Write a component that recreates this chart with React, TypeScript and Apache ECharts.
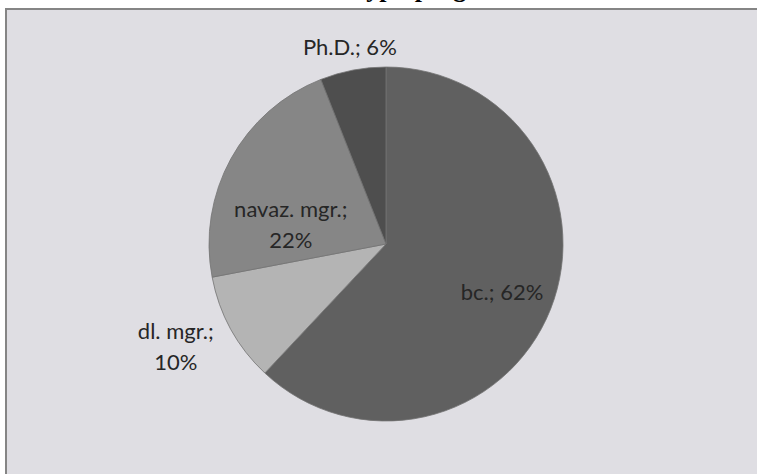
import React, { useEffect, useRef } from "react";
import * as echarts from "echarts";

const categories = ["bc.", "dl. mgr.", "navaz. mgr.", "Ph.D."];
const shares = [62, 10, 22, 6];
const sliceColors = ["#606060", "#b4b4b4", "#868686", "#4e4e4e"];
const labelPositions = ["inside", "inside", "inside", "inside"];
// label nudges (px) from ECharts' inside-label anchor
const labelShift = [
  [31, 14],
  [-130, 58],
  [-15, 24],
  [-19, -108],
];
const titleText = "Podle typu programu";

export default function App() {
  const ref = useRef<HTMLDivElement>(null);
  useEffect(() => {
    document.body.style.margin = "0";
    const chart = echarts.init(ref.current!, undefined, { renderer: "svg" });
    chart.setOption({
      animation: false,
      backgroundColor: "#ffffff",
      graphic: [
        {
          type: "rect",
          shape: { x: 6, y: 9, width: 800, height: 520 },
          style: { fill: "#dfdee3", stroke: "#858585", lineWidth: 2 },
          z: -10,
        },
        {
          type: "text",
          x: 408,
          y: -12,
          style: {
            text: titleText,
            font: "bold 26px 'Liberation Serif', serif",
            fill: "#000000",
            align: "center",
            verticalAlign: "middle",
          },
        },
      ],
      series: [
        {
          type: "pie",
          center: [386, 244],
          radius: 177,
          startAngle: 90,
          clockwise: true,
          itemStyle: { borderColor: "#737373", borderWidth: 0.8 },
          label: {
            show: true,
            formatter: (p: any) =>
              p.dataIndex === 1 || p.dataIndex === 2
                ? `${p.name};\n${p.value}%`
                : `${p.name}; ${p.value}%`,
            fontFamily: "Lato, 'Open Sans', sans-serif",
            fontSize: 22,
            color: "#262626",
            lineHeight: 31,
            align: "center",
          },
          labelLine: { show: false },
          labelLayout: (params: any) => ({
            dx: labelShift[params.dataIndex][0],
            dy: labelShift[params.dataIndex][1],
          }),
          emphasis: { disabled: true },
          data: categories.map((c, i) => ({
            name: c,
            value: shares[i],
            itemStyle: { color: sliceColors[i] },
            label: { position: labelPositions[i] },
          })),
        },
      ],
    });
    return () => chart.dispose();
  }, []);
  return <div ref={ref} style={{ width: 757, height: 474 }} />;
}
